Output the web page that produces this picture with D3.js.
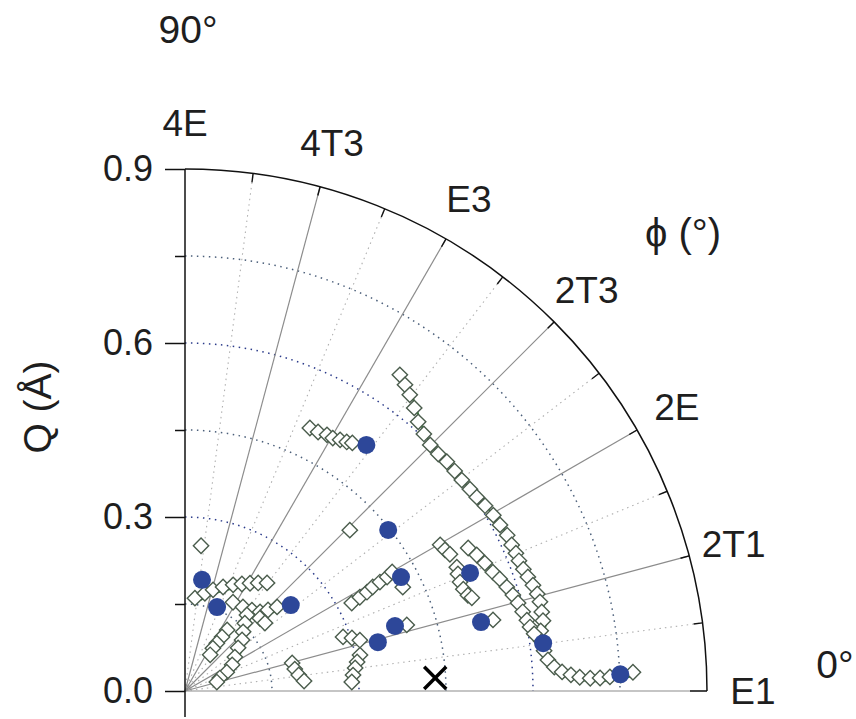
<!DOCTYPE html>
<html>
<head>
<meta charset="utf-8">
<script src="https://d3js.org/d3.v7.min.js"></script>
<style>
  body { margin: 0; background: #fff; }
  text { font-family: "Liberation Sans", Arial, sans-serif; fill: #1e1e1e; }
</style>
</head>
<body>
<script>
// phi in degrees, Q in Angstrom

// filled circles
let dotPhi = [53.6, 38.4, 27.8, 22.5, 39.1, 17.2, 14.2, 13.1, 7.6, 2.2, 81.3, 69.1];
let dotQ   = [0.527, 0.447, 0.421, 0.532, 0.235, 0.379, 0.343, 0.524, 0.623, 0.751, 0.194, 0.155];

// open diamond traces, [phi, Q]
let traceA = [[55.8,.659],[54.3,.650],[52.8,.641],[51.0,.628],[49.1,.614],[47.1,.605],[45.1,.599],
  [43.1,.598],[41.2,.600],[39.2,.600],[37.3,.600],[35.3,.602],[33.6,.604],[31.7,.608],[29.7,.612],
  [27.8,.614],[25.8,.617],[24.1,.617],[22.6,.618],[21.3,.618],[19.8,.620],[18.4,.623],[16.9,.627],
  [15.4,.630],[14.1,.631],[12.5,.630],[11.1,.629],[9.6,.622],[8.0,.620],[6.4,.623],[4.9,.628],
  [3.7,.638],[2.9,.651],[2.4,.666],[2.0,.681],[1.8,.699],[1.8,.716],[1.9,.733],[2.1,.752],[2.4,.773]];
let traceF = [[26.8,.547],[25.0,.555],[23.1,.562],[21.1,.569],[19.6,.576],[17.9,.583],[16.3,.589],
  [14.8,.594],[13.2,.598],[11.7,.602],[10.5,.605],[9.3,.610]];
let traceB = [[64.6,.502],[62.8,.502],[61.0,.505],[59.7,.505],[58.3,.509],[57.0,.512],[56.0,.516]];
let traceD = [[27.8,.325],[28.2,.342],[28.5,.357],[29.0,.370],[29.2,.385],[29.4,.400],[29.9,.412]];
let traceE = [[29.8,.507],[28.5,.510],[27.3,.514]];
let traceG = [[24.5,.515],[23.2,.512],[21.6,.510],[20.1,.511],[18.7,.515],[18.0,.520]];
let traceH = [[18.9,.288],[17.6,.302],[16.2,.314]];
let traceI = [[11.6,.308],[9.6,.301],[7.7,.296],[5.4,.291],[3.1,.288]];
let traceK = [[14.7,.191],[11.3,.193],[8.0,.198],[4.8,.206]];
let traceM = [[83.9,.161],[78.5,.172],[74.5,.181],[69.9,.191],[65.6,.201],[62.0,.209],[58.9,.217],
  [55.9,.225],[52.8,.234]];
let traceN = [[61.6,.174],[55.4,.176],[50.4,.181],[46.5,.188],[44.3,.200],[42.4,.215]];
let traceJ1 = [[55.4,.128],[55.6,.113],[56.3,.099],[56.9,.088],[55.2,.076]];
let traceJ2 = [[50.8,.169],[48.6,.156],[45.5,.143],[41.8,.132],[39.1,.118],[34.2,.104],[29.0,.093],
  [24.3,.079],[20.4,.064],[15.7,.057]];
let singles = [[44.3,.397],[83.7,.252],[25.5,.416],[13.0,.545],[16.6,.399],[44.2,.180],[40.4,.181]];

// cross marker
let crossPhi = [3.0];
let crossQ = [0.432];

// axes
let qTicks = [0, 0.3, 0.6, 0.9];
let qMinorTicks = [0.15, 0.45, 0.75];
let gridQ = [0.15, 0.3, 0.45, 0.6, 0.75];
let phiTicks = [0, 15, 30, 45, 60, 75, 90];
let phiLabels = ["E1", "2T1", "2E", "2T3", "E3", "4T3", "4E"];
let phiMinor = [7.5, 22.5, 37.5, 52.5, 67.5, 82.5];

let svgWidth = 856;
let svgHeight = 719;
let cx = 185, cy = 691, R = 522;

let svg = d3.select("body").append("svg")
  .attr("width", svgWidth)
  .attr("height", svgHeight);

let rScale = d3.scaleLinear().domain([0, 0.9]).range([0, R]);
let rad = d => d * Math.PI / 180;
let px = (phi, q) => rScale(q) * Math.cos(rad(phi));
let py = (phi, q) => -rScale(q) * Math.sin(rad(phi));

let plot = svg.append("g").attr("transform", `translate(${cx}, ${cy})`);

function quarterArc(r) {
  let p = d3.path();
  p.moveTo(0, -r);
  p.arc(0, 0, r, -Math.PI / 2, 0);
  return p.toString();
}

// minor radial dotted lines
plot.selectAll(".minorSpoke").data(phiMinor).join("line")
  .attr("x1", 0).attr("y1", 0)
  .attr("x2", d => px(d, 0.9)).attr("y2", d => py(d, 0.9))
  .attr("stroke", "#b0b0b0").attr("stroke-width", 1.1)
  .attr("stroke-dasharray", "1.5,4");

// dotted grid arcs
plot.selectAll(".gridArc").data(gridQ).join("path")
  .attr("d", d => quarterArc(rScale(d)))
  .attr("fill", "none")
  .attr("stroke", d => (d === 0.3 || d === 0.6) ? "#2b3b8a" : "#4b5f7a")
  .attr("stroke-width", 1.5)
  .attr("stroke-dasharray", "1.5,4.5");

// solid spokes
plot.selectAll(".spoke").data(phiTicks.filter(d => d < 90)).join("line")
  .attr("x1", 0).attr("y1", 0)
  .attr("x2", d => px(d, 0.9)).attr("y2", d => py(d, 0.9))
  .attr("stroke", "#8c8c8c").attr("stroke-width", 1.2);

// outer arc and ticks
plot.append("path")
  .attr("d", quarterArc(R))
  .attr("fill", "none").attr("stroke", "#111").attr("stroke-width", 1.5);

plot.selectAll(".phiTick").data(phiTicks.concat(phiMinor).filter(d => d < 90)).join("line")
  .attr("x1", d => px(d, 0.9)).attr("y1", d => py(d, 0.9))
  .attr("x2", d => (R - (d === 0 ? 17 : 9)) * Math.cos(rad(d)))
  .attr("y2", d => -(R - (d === 0 ? 17 : 9)) * Math.sin(rad(d)))
  .attr("stroke", "#111").attr("stroke-width", 1.4);

// angle labels
plot.selectAll(".phiLabel").data(phiTicks).join("text")
  .attr("x", d => (R + 46) * Math.cos(rad(d)))
  .attr("y", d => -(R + 46) * Math.sin(rad(d)))
  .attr("text-anchor", "middle")
  .attr("dy", "0.36em")
  .attr("font-size", 37)
  .text((d, i) => phiLabels[i]);

// Q axis
let yScale = d3.scaleLinear().domain([0, 0.9]).range([cy, cy - R]);
svg.append("line")
  .attr("x1", cx).attr("x2", cx)
  .attr("y1", yScale(0.9)).attr("y2", cy + 26)
  .attr("stroke", "#111").attr("stroke-width", 1.5);

let leftAxis = d3.axisLeft(yScale).tickValues(qTicks).tickSize(20).tickPadding(12)
  .tickFormat(d3.format(".1f"));
let axisG = svg.append("g").attr("transform", `translate(${cx}, 0)`).call(leftAxis);
axisG.select(".domain").remove();
axisG.selectAll("line").attr("stroke", "#111").attr("stroke-width", 1.5);
axisG.selectAll("text").attr("font-size", 36).attr("fill", "#1e1e1e")
  .style("font-family", "'Liberation Sans', Arial, sans-serif");

let minorAxis = d3.axisLeft(yScale).tickValues(qMinorTicks).tickSize(10).tickFormat("");
let minorG = svg.append("g").attr("transform", `translate(${cx}, 0)`).call(minorAxis);
minorG.select(".domain").remove();
minorG.selectAll("line").attr("stroke", "#111").attr("stroke-width", 1.5);

// green trace lines under the diamonds
let traces = [traceA, traceF, traceB, traceD, traceE, traceG, traceH, traceI, traceK,
  traceM, traceN, traceJ1, traceJ2];
let allDiamonds = traces.flat().concat(singles);

let drawLine = d3.line()
  .x(d => px(d[0], d[1]) + 3)
  .y(d => py(d[0], d[1]) + 3);

plot.selectAll(".trace").data(traces).join("path")
  .attr("d", drawLine)
  .attr("fill", "none")
  .attr("stroke", "#2f8a34")
  .attr("stroke-width", 2);

let diamond = d3.symbol(d3.symbolSquare, 118);
plot.selectAll(".diamond").data(allDiamonds).join("path")
  .attr("d", diamond)
  .attr("transform", d => `translate(${px(d[0], d[1])}, ${py(d[0], d[1])}) rotate(45)`)
  .attr("fill", "#fff")
  .attr("stroke", "#4a5c4c")
  .attr("stroke-width", 1.4);

// filled circles
plot.selectAll(".dot").data(dotPhi).join("circle")
  .attr("cx", (d, i) => px(d, dotQ[i]))
  .attr("cy", (d, i) => py(d, dotQ[i]))
  .attr("r", 9)
  .attr("fill", "#2d4799");

// cross
plot.selectAll(".cross").data(crossPhi).join("path")
  .attr("d", d3.symbol(d3.symbolX, 320))
  .attr("transform", (d, i) => `translate(${px(d, crossQ[i])}, ${py(d, crossQ[i])})`)
  .attr("fill", "none")
  .attr("stroke", "#000")
  .attr("stroke-width", 3.5);

// titles
svg.append("text")
  .attr("x", 188).attr("y", 43)
  .attr("text-anchor", "middle")
  .attr("font-size", 39)
  .text("90°");

svg.append("text")
  .attr("x", 835).attr("y", 678)
  .attr("text-anchor", "middle")
  .attr("font-size", 39)
  .text("0°");

svg.append("text")
  .attr("x", 683).attr("y", 247)
  .attr("text-anchor", "middle")
  .attr("font-size", 40)
  .text("ϕ (°)");

svg.append("text")
  .attr("transform", "translate(51, 407) rotate(-90)")
  .attr("text-anchor", "middle")
  .attr("font-size", 39)
  .text("Q (Å)");
</script>
</body>
</html>
